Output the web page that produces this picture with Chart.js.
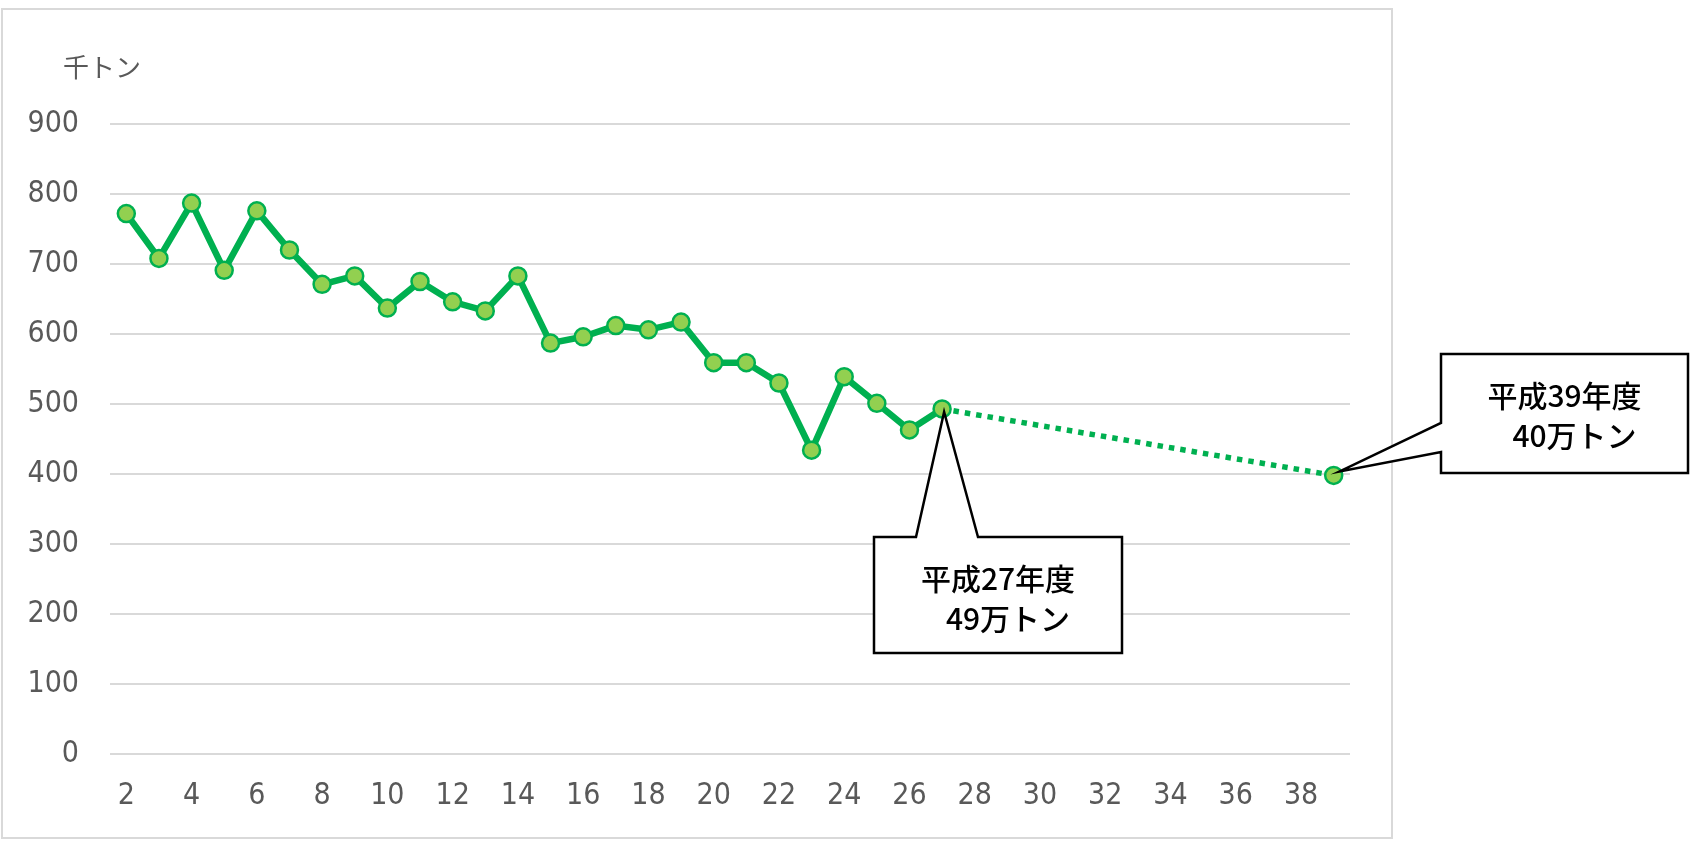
<!DOCTYPE html>
<html>
<head>
<meta charset="utf-8">
<script src="https://cdn.jsdelivr.net/npm/chart.js@4.4.1/dist/chart.umd.min.js"></script>
<style>
  html, body { margin: 0; padding: 0; background: #fff; }
  canvas { display: block; }
</style>
</head>
<body>
<canvas id="myChart" width="1696" height="844"></canvas>
<script>
// 平成 year (x axis categories)
const years = [2, 3, 4, 5, 6, 7, 8, 9, 10, 11, 12, 13, 14, 15, 16, 17, 18, 19, 20,
    21, 22, 23, 24, 25, 26, 27, 28, 29, 30, 31, 32, 33, 34, 35, 36, 37, 38, 39];

// actual amounts, 平成2〜27年度 (千トン)
const actual = [772, 708, 787, 691, 776, 720, 671, 683, 637, 675, 646, 633, 683,
    587, 596, 612, 606, 617, 559, 559, 530, 434, 539, 501, 463, 493];

// target
const targetYear = 39;
const targetValue = 398;

const yMin = 0;
const yMax = 900;
const yStep = 100;

const unitLabel = '千トン';
const note27 = ['平成27年度', '49万トン'];
const note39 = ['平成39年度', '40万トン'];

const lastActualYear = years[actual.length - 1];

const actualData = years.map((y, i) => (i < actual.length ? actual[i] : null));
const targetData = years.map(y => {
    if (y === lastActualYear) return actual[actual.length - 1];
    if (y === targetYear) return targetValue;
    return null;
});

const GREEN = '#00b050';
const LIGHT_GREEN = '#92d050';
const TICK_FONT = '"DejaVu Sans Condensed", "Liberation Sans Narrow", "DejaVu Sans", sans-serif';
const JP_FONT = '"Noto Sans CJK JP", "Noto Sans", sans-serif';

function drawCallout(ctx, box, side, w1, w2, tip, lines) {
    ctx.beginPath();
    if (side === 'top') {
        ctx.moveTo(box.l, box.t);
        ctx.lineTo(w1, box.t);
        ctx.lineTo(tip.x, tip.y);
        ctx.lineTo(w2, box.t);
        ctx.lineTo(box.r, box.t);
        ctx.lineTo(box.r, box.b);
        ctx.lineTo(box.l, box.b);
    } else {
        ctx.moveTo(box.l, box.t);
        ctx.lineTo(box.r, box.t);
        ctx.lineTo(box.r, box.b);
        ctx.lineTo(box.l, box.b);
        ctx.lineTo(box.l, w2);
        ctx.lineTo(tip.x, tip.y);
        ctx.lineTo(box.l, w1);
    }
    ctx.closePath();
    ctx.fillStyle = '#ffffff';
    ctx.fill();
    ctx.strokeStyle = '#000000';
    ctx.lineWidth = 2.5;
    ctx.lineJoin = 'miter';
    ctx.stroke();

    const cx = (box.l + box.r) / 2;
    ctx.fillStyle = '#000000';
    ctx.font = '500 30px ' + JP_FONT;
    ctx.textAlign = 'center';
    ctx.textBaseline = 'middle';
    ctx.fillText(lines[0], cx, box.t + 42);
    ctx.fillText(lines[1], cx + 10, box.t + 82);
}

const decorations = {
    id: 'decorations',
    beforeDraw(chart) {
        const ctx = chart.ctx;
        ctx.save();
        ctx.strokeStyle = '#d9d9d9';
        ctx.lineWidth = 2;
        ctx.strokeRect(2, 9, 1390, 829);
        ctx.fillStyle = '#595959';
        ctx.font = '26px ' + JP_FONT;
        ctx.textAlign = 'left';
        ctx.textBaseline = 'middle';
        ctx.fillText(unitLabel, 63, 67);
        ctx.restore();
    },
    afterDatasetsDraw(chart) {
        const ctx = chart.ctx;
        const p27 = chart.getDatasetMeta(0).data[years.indexOf(lastActualYear)];
        const p39 = chart.getDatasetMeta(1).data[years.indexOf(targetYear)];
        ctx.save();
        drawCallout(ctx, {l: 874, r: 1122, t: 537, b: 653}, 'top', 916, 978,
            {x: p27.x + 2, y: p27.y + 3}, note27);
        drawCallout(ctx, {l: 1441, r: 1688, t: 354, b: 473}, 'left', 423, 452,
            {x: p39.x + 6, y: p39.y - 4}, note39);
        ctx.restore();
    }
};

const config = {
    type: 'line',
    data: {
        labels: years.map(String),
        datasets: [{
            label: '実績',
            data: actualData,
            borderColor: GREEN,
            borderWidth: 6.5,
            backgroundColor: LIGHT_GREEN,
            pointBackgroundColor: LIGHT_GREEN,
            pointBorderColor: GREEN,
            pointBorderWidth: 2.5,
            pointRadius: 8.5,
            tension: 0,
            spanGaps: false,
        }, {
            label: '目標',
            data: targetData,
            borderColor: GREEN,
            borderWidth: 5.5,
            borderDash: [5.5, 6],
            backgroundColor: LIGHT_GREEN,
            pointBackgroundColor: LIGHT_GREEN,
            pointBorderColor: GREEN,
            pointBorderWidth: 2.5,
            pointRadius: ctx => (years[ctx.dataIndex] === targetYear ? 8.5 : 0),
            tension: 0,
            spanGaps: true,
        }]
    },
    options: {
        responsive: false,
        animation: false,
        layout: {
            padding: {top: 124, right: 346, bottom: 0, left: 0}
        },
        plugins: {
            legend: {display: false},
            tooltip: {enabled: false},
            title: {display: false}
        },
        scales: {
            x: {
                offset: true,
                grid: {display: false, drawTicks: false},
                border: {display: false},
                afterFit(scale) { scale.height = 90; },
                ticks: {
                    autoSkip: false,
                    maxRotation: 0,
                    padding: 24,
                    color: '#595959',
                    font: {family: TICK_FONT, size: 30},
                    callback: (val, idx) => (years[idx] % 2 === 0 ? String(years[idx]) : '')
                }
            },
            y: {
                min: yMin,
                max: yMax,
                grid: {color: '#d9d9d9', lineWidth: 2, drawTicks: false},
                border: {display: false},
                afterFit(scale) { scale.width = 110; },
                ticks: {
                    stepSize: yStep,
                    padding: 31,
                    color: '#595959',
                    font: {family: TICK_FONT, size: 30}
                }
            }
        }
    },
    plugins: [decorations]
};

const myChart = new Chart(document.getElementById('myChart'), config);
</script>
</body>
</html>
